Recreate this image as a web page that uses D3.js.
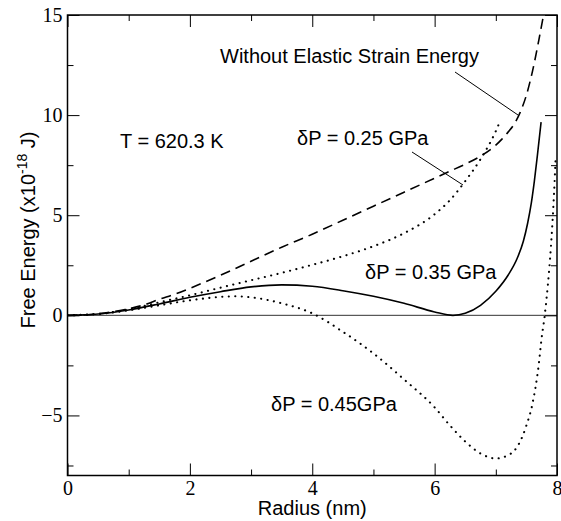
<!DOCTYPE html>
<html><head><meta charset="utf-8">
<script src="https://cdn.jsdelivr.net/npm/d3@7"></script>
<style>body{margin:0;background:#fff}svg{display:block}</style>
</head><body>
<script>
// ---- data ----
const noStrainR = [0,0.25,0.5,0.75,1,1.25,1.5,1.75,2,2.5,3,3.5,4,4.5,5,5.5,6,6.25,6.5,6.75,7,7.1,7.2,7.3,7.4,7.5,7.6,7.7,7.78];
const noStrainE = [0,0.02,0.08,0.18,0.33,0.52,0.8,1.05,1.35,2.0,2.7,3.4,4.05,4.75,5.45,6.15,6.85,7.2,7.55,7.95,8.5,8.8,9.15,9.55,10.15,11.0,12.2,13.7,15.0];
const p25R = [0,0.5,1,1.5,2,2.5,3,3.5,4,4.5,5,5.5,6,6.25,6.5,6.75,7,7.07];
const p25E = [0,0.07,0.3,0.65,1.0,1.38,1.75,2.12,2.52,2.95,3.45,4.1,5.05,5.75,6.7,7.8,9.2,9.7];
const p35R = [0,0.5,1,1.5,2,2.5,3,3.5,4,4.5,5,5.5,6,6.3,6.5,6.75,7,7.2,7.35,7.45,7.52,7.58,7.63,7.68,7.74];
const p35E = [0,0.07,0.27,0.57,0.9,1.18,1.42,1.52,1.45,1.23,0.95,0.6,0.17,0.0,0.1,0.5,1.2,2.0,2.85,3.7,4.6,5.6,6.7,8.0,9.65];
const p45R = [0,0.5,1,1.5,2,2.5,2.75,3,3.5,4,4.5,5,5.5,6,6.25,6.5,6.75,7,7.25,7.5,7.6,7.7,7.75,7.8,7.85,7.9,7.95,7.98];
const p45E = [0,0.07,0.25,0.5,0.75,0.92,0.95,0.9,0.6,0.1,-0.82,-1.9,-3.2,-4.6,-5.5,-6.3,-6.9,-7.15,-6.9,-5.5,-4.4,-2.5,-1.1,0,1.5,3.4,6.0,8.0];
const xMajor = [0,2,4,6,8];
const xMinor = [1,3,5,7];
const yMajor = [-5,0,5,10,15];
const yMinor = [-7.5,-2.5,2.5,7.5,12.5];

const W = 561, H = 521;
const L = 67.5, R = 557, T = 15, B = 475.5;
const svg = d3.select("body").append("svg").attr("width", W).attr("height", H);
const x = d3.scaleLinear().domain([0,8]).range([L,R]);
const y = d3.scaleLinear().domain([-8,15]).range([B,T]);

const serif = "'Liberation Serif','Times New Roman',serif";
const sans = "'Liberation Sans',Arial,Helvetica,sans-serif";

svg.append("clipPath").attr("id","clip").append("rect")
  .attr("x",L).attr("y",T).attr("width",R-L).attr("height",B-T);

// zero line
svg.append("line").attr("x1",L).attr("x2",R).attr("y1",y(0)).attr("y2",y(0))
  .attr("stroke","#333").attr("stroke-width",1);

// axes
function styleAxis(g){ g.select(".domain").remove(); g.selectAll("line").attr("stroke","#000").attr("stroke-width",1);}
const bottomG = svg.append("g").attr("transform",`translate(0,${B})`)
  .call(d3.axisBottom(x).tickValues(xMajor).tickSize(-12).tickPadding(5).tickFormat(d3.format("d")));
bottomG.call(styleAxis);
bottomG.selectAll("text").attr("font-family",serif).attr("font-size",20).attr("fill","#000");
svg.append("g").attr("transform",`translate(0,${B})`)
  .call(d3.axisBottom(x).tickValues(xMinor).tickSize(-6).tickFormat("")).call(styleAxis);
svg.append("g").attr("transform",`translate(0,${T})`)
  .call(d3.axisTop(x).tickValues(xMajor).tickSize(-12).tickFormat("")).call(styleAxis);
svg.append("g").attr("transform",`translate(0,${T})`)
  .call(d3.axisTop(x).tickValues(xMinor).tickSize(-6).tickFormat("")).call(styleAxis);

const leftG = svg.append("g").attr("transform",`translate(${L},0)`)
  .call(d3.axisLeft(y).tickValues(yMajor).tickSize(-12).tickPadding(5).tickFormat(d3.format("d")));
leftG.call(styleAxis);
leftG.selectAll("text").attr("font-family",serif).attr("font-size",20).attr("fill","#000");
svg.append("g").attr("transform",`translate(${L},0)`)
  .call(d3.axisLeft(y).tickValues(yMinor).tickSize(-6).tickFormat("")).call(styleAxis);
svg.append("g").attr("transform",`translate(${R},0)`)
  .call(d3.axisRight(y).tickValues(yMajor).tickSize(-12).tickFormat("")).call(styleAxis);
svg.append("g").attr("transform",`translate(${R},0)`)
  .call(d3.axisRight(y).tickValues(yMinor).tickSize(-6).tickFormat("")).call(styleAxis);

// curves
const line = d3.line().x(d=>x(d[0])).y(d=>y(d[1])).curve(d3.curveMonotoneX);
const curves = svg.append("g").attr("clip-path","url(#clip)");
function draw(rs, es, dash, w, cap){
  curves.append("path").datum(rs.map((r,i)=>[r,es[i]]))
    .attr("d",line).attr("fill","none").attr("stroke","#000")
    .attr("stroke-width",w).attr("stroke-dasharray",dash)
    .attr("stroke-linecap", cap);
}
draw(noStrainR, noStrainE, "10 6", 1.6, "butt");
draw(p25R, p25E, "0.1 6.4", 2.1, "round");
draw(p35R, p35E, null, 1.6, "butt");
draw(p45R, p45E, "0.1 6.4", 2.1, "round");

// frame
svg.append("rect").attr("x",L).attr("y",T).attr("width",R-L).attr("height",B-T)
  .attr("fill","none").attr("stroke","#000").attr("stroke-width",1.5);

// annotations
const ann = svg.append("g").attr("font-family",sans).attr("font-size",20).attr("fill","#000");
ann.append("text").attr("x",220).attr("y",63).text("Without Elastic Strain Energy");
ann.append("text").attr("x",120).attr("y",148).text("T = 620.3 K");
ann.append("text").attr("x",297).attr("y",145).text("δP = 0.25 GPa");
ann.append("text").attr("x",365).attr("y",279).text("δP = 0.35 GPa");
ann.append("text").attr("x",271).attr("y",411).text("δP = 0.45GPa");
svg.append("line").attr("x1",455).attr("y1",72).attr("x2",518).attr("y2",115).attr("stroke","#000").attr("stroke-width",1);
svg.append("line").attr("x1",412).attr("y1",152).attr("x2",463).attr("y2",185).attr("stroke","#000").attr("stroke-width",1);

// axis labels
svg.append("text").attr("x",(L+R)/2).attr("y",515).attr("text-anchor","middle")
  .attr("font-family",sans).attr("font-size",20).text("Radius (nm)");
const yl = svg.append("text").attr("transform","translate(35,230) rotate(-90)").attr("text-anchor","middle")
  .attr("font-family",sans).attr("font-size",20);
yl.append("tspan").text("Free Energy (x10");
yl.append("tspan").attr("dy",-8).attr("font-size",14).text("-18");
yl.append("tspan").attr("dy",8).text(" J)");
</script>
</body></html>
